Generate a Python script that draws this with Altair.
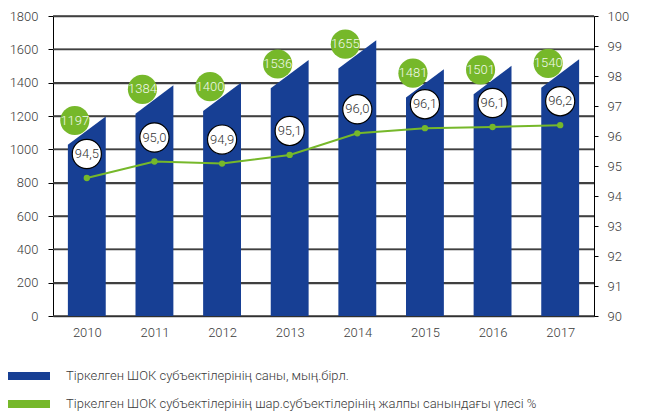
import altair as alt
import pandas as pd

years = [2010, 2011, 2012, 2013, 2014, 2015, 2016, 2017]
counts = [1197, 1384, 1400, 1536, 1655, 1481, 1501, 1540]
share = [94.6, 95.15, 95.08, 95.37, 96.09, 96.26, 96.3, 96.36]
share_labels = ["94,5", "95,0", "94,9", "95,1", "96,0", "96,1", "96,1", "96,2"]
series_names = [
    "Тіркелген ШОК субъектілерінің саны, мың.бірл.",
    "Тіркелген ШОК субъектілерінің шар.субъектілерінің жалпы санындағы үлесі %",
]
left_ticks = list(range(0, 1801, 200))
right_ticks = list(range(90, 101))

BLUE = "#173f94"
GREEN = "#76b82a"
FONT = "Roboto Light, Roboto"
TXT = "#3a3a3a"
HALF = 0.28     # half bar width in year units
SLANT = 170     # drop of the bar's top-left corner
X0, X1 = 2009.5, 2017.5

rows = []
for y, c in zip(years, counts):
    rows.append({"year": y, "x": y - HALF, "top": c - SLANT, "series": series_names[0]})
    rows.append({"year": y, "x": y + HALF, "top": c, "series": series_names[0]})
area_df = pd.DataFrame(rows)

df = pd.DataFrame({"year": years, "count": counts, "share": share, "label": share_labels})
grid_df = pd.DataFrame({"v": left_ticks})

xscale = alt.Scale(domain=[X0, X1], nice=False, zero=False)
xaxis = alt.Axis(values=years, format="d", title=None, grid=False, ticks=False,
                 domainColor="#000", labelFont=FONT, labelFontSize=13, labelColor=TXT,
                 labelPadding=10)
lscale = alt.Scale(domain=[0, 1800], nice=False)
laxis = alt.Axis(values=left_ticks, format="d", title=None, grid=True, gridColor="#404040",
                 gridWidth=1.5, gridOpacity=1,
                 domainColor="#000", tickColor="#000", tickSize=5, labelPadding=10,
                 labelFont=FONT, labelFontSize=13, labelColor=TXT)
rscale = alt.Scale(domain=[90, 100], nice=False, zero=False)
raxis = alt.Axis(values=right_ticks, format="d", title=None, grid=False, orient="right",
                 domainColor="#000", tickColor="#000", tickSize=4, labelPadding=9,
                 labelFont=FONT, labelFontSize=13, labelColor=TXT)

grid = alt.Chart(grid_df).mark_rule(color="#404040", strokeWidth=1.5, opacity=1).encode(
    y=alt.Y("v:Q", scale=lscale, axis=None),
)

bars = alt.Chart(area_df).mark_area(interpolate="linear", opacity=1).encode(
    x=alt.X("x:Q", scale=xscale, axis=xaxis),
    y=alt.Y("top:Q", stack=None, scale=lscale, axis=laxis),
    color=alt.Color("series:N",
                    scale=alt.Scale(domain=series_names, range=[BLUE, GREEN]),
                    legend=alt.Legend(orient="none", legendX=-45, legendY=339, title=None,
                                      direction="vertical",
                                      symbolType="M-1,-0.19H1V0.19H-1Z", symbolSize=1764,
                                      symbolStrokeWidth=0, symbolOpacity=1,
                                      labelOffset=16, rowPadding=-15,
                                      labelFont=FONT, labelFontSize=13, labelColor=TXT,
                                      labelLimit=700)),
    detail="year:N",
)

gcirc = alt.Chart(df).mark_circle(size=850, color=GREEN, opacity=1, xOffset=-12, yOffset=4).encode(
    x=alt.X("year:Q", scale=xscale, axis=xaxis),
    y=alt.Y("count:Q", scale=lscale, axis=laxis),
)
gtext = alt.Chart(df).mark_text(dx=-12, dy=4, font=FONT, fontSize=13,
                                color="#f2f8ea").encode(
    x=alt.X("year:Q", scale=xscale, axis=xaxis),
    y=alt.Y("count:Q", scale=lscale, axis=laxis),
    text="count:Q",
)
left = alt.layer(bars, gcirc, gtext)

line = alt.Chart(df).mark_line(color=GREEN, strokeWidth=2).encode(
    x=alt.X("year:Q", scale=xscale, axis=xaxis),
    y=alt.Y("share:Q", scale=rscale, axis=raxis),
)
pts = alt.Chart(df).mark_circle(size=40, color=GREEN, opacity=1).encode(
    x=alt.X("year:Q", scale=xscale, axis=xaxis),
    y=alt.Y("share:Q", scale=rscale, axis=raxis),
)
wcirc = alt.Chart(df).mark_circle(size=850, color="white", stroke="#000", strokeWidth=1.2,
                                  opacity=1, yOffset=-24).encode(
    x=alt.X("year:Q", scale=xscale, axis=xaxis),
    y=alt.Y("share:Q", scale=rscale, axis=raxis),
)
wtext = alt.Chart(df).mark_text(dy=-24, font=FONT, fontSize=13, color="#333").encode(
    x=alt.X("year:Q", scale=xscale, axis=xaxis),
    y=alt.Y("share:Q", scale=rscale, axis=raxis),
    text="label:N",
)
right = alt.layer(line, pts, wcirc, wtext)

chart = alt.layer(grid, left, right).resolve_scale(y="independent").properties(
    width=541, height=300,
    autosize=alt.AutoSizeParams(type="none"),
    padding={"left": 45, "top": 8, "right": 44, "bottom": 96},
).configure_view(stroke=None)

chart.save("out.html", embed_options={"renderer": "svg", "actions": False})
